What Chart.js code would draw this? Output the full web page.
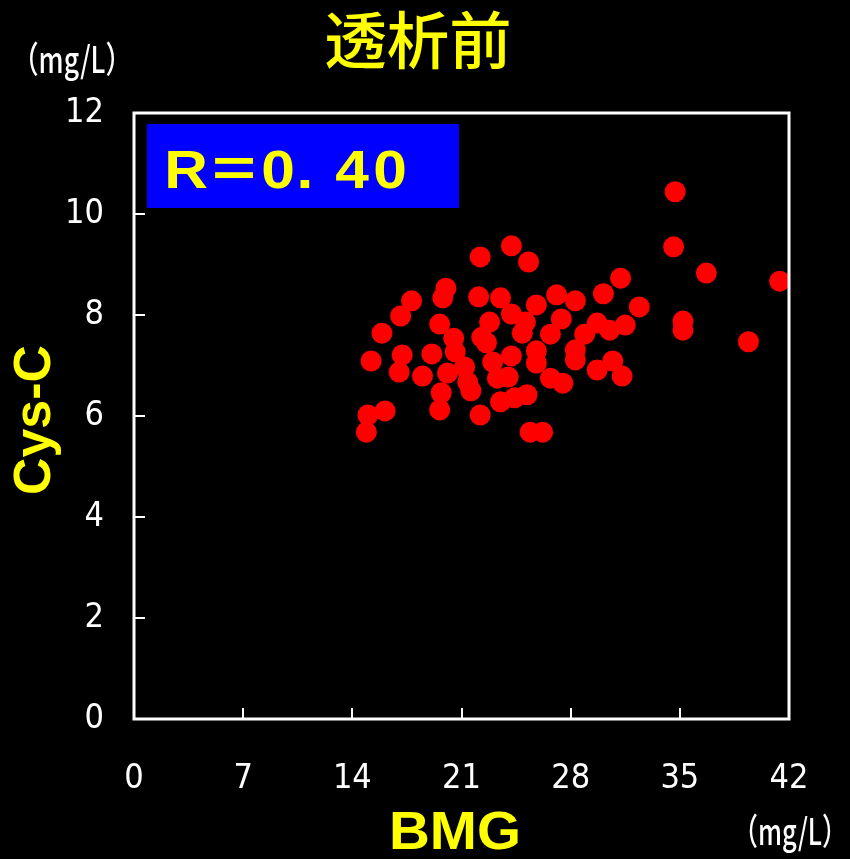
<!DOCTYPE html>
<html>
<head>
<meta charset="utf-8">
<script src="https://cdn.jsdelivr.net/npm/chart.js@4/dist/chart.umd.min.js"></script>
<style>
  html, body { margin: 0; padding: 0; background: #000; }
  #wrap { width: 850px; height: 859px; position: relative; }
</style>
</head>
<body>
<div id="wrap"><canvas id="c" width="850" height="859"></canvas></div>
<script>
// ---- data ----
const chartTitle = '透析前';
const xTitle = 'BMG';
const yTitle = 'Cys-C';
const unitLabel = '（mg/L）';
const rLabel = 'R＝0. 40';
const xTicks = [0, 7, 14, 21, 28, 35, 42];
const yTicks = [0, 2, 4, 6, 8, 10, 12];
const bmg = [
  14.9, 15.0, 16.1, 15.2, 15.9, 17.1, 17.8, 17.2, 17.0, 18.5,
  19.1, 19.6, 19.8, 20.0, 20.5, 20.6, 20.1, 21.2, 21.4, 19.7,
  19.6, 21.6, 22.2, 22.1, 22.2, 22.3, 22.8, 23.0, 23.3, 24.0,
  23.5, 24.4, 25.2, 24.2, 25.3, 23.5, 25.8, 24.2, 25.1, 24.9,
  24.2, 25.8, 25.8, 25.4, 26.2, 26.7, 26.7, 27.5, 27.1, 27.4,
  28.3, 28.9, 28.3, 28.3, 29.7, 29.7, 30.7, 31.3, 30.1, 31.2,
  32.4, 30.5, 31.5, 34.7, 34.6, 36.7, 41.4, 35.2, 35.2, 39.4,
  22.6
];
const cysC = [
  5.68, 6.02, 6.10, 7.09, 7.64, 7.98, 8.28, 7.21, 6.87, 6.79,
  7.23, 7.82, 8.34, 8.53, 7.54, 7.27, 6.85, 6.97, 6.67, 6.46,
  6.12, 6.50, 9.15, 8.36, 6.02, 7.56, 7.86, 7.07, 6.75, 6.77,
  6.28, 6.36, 6.42, 9.37, 9.05, 8.34, 8.20, 8.02, 7.86, 7.64,
  7.19, 7.29, 7.05, 5.68, 5.68, 7.62, 6.75, 6.65, 8.40, 7.92,
  8.28, 7.62, 7.31, 7.11, 7.84, 6.91, 7.09, 6.79, 8.42, 8.73,
  8.16, 7.70, 7.80, 10.44, 9.35, 8.83, 8.67, 7.88, 7.70, 7.47,
  7.45
];

const points = bmg.map((x, i) => ({ x: x, y: cysC[i] }));

const numFont = '"Liberation Sans Narrow", "DejaVu Sans Condensed", "Liberation Sans", Arial, sans-serif';

function drawFit(ctx, text, cx, cy, targetW, font, color, rot) {
  ctx.save();
  ctx.font = font;
  ctx.fillStyle = color;
  ctx.textAlign = 'center';
  ctx.textBaseline = 'middle';
  const w = ctx.measureText(text).width;
  ctx.translate(cx, cy);
  if (rot) ctx.rotate(rot);
  ctx.scale(targetW / w, 1);
  ctx.fillText(text, 0, 0);
  ctx.restore();
}

// draw the R label glyph by glyph with the wide spacing of the original
function drawRLabel(ctx) {
  const chars = Array.from(rLabel);           // R ＝ 0 . space 4 0
  const slots = [186, 234, 278, 305, 0, 352, 390];
  ctx.save();
  ctx.fillStyle = '#ffff00';
  ctx.textAlign = 'center';
  ctx.textBaseline = 'alphabetic';
  ctx.font = 'bold 54px "Liberation Sans", Arial, sans-serif';
  chars.forEach((ch, i) => {
    if (ch === ' ') return;
    ctx.save();
    ctx.translate(slots[i], 188);
    if (ch === '＝') {
      const w = ctx.measureText('=').width;
      ctx.scale(44 / w, 1);
      ctx.fillText('=', 0, -2);
    } else {
      ctx.scale(1.12, 1);
      ctx.fillText(ch, 0, 0);
    }
    ctx.restore();
  });
  ctx.restore();
}

const decor = {
  id: 'decor',
  beforeDraw(chart) {
    const ctx = chart.ctx;
    ctx.save();
    ctx.fillStyle = '#000';
    ctx.fillRect(0, 0, chart.width, chart.height);
    ctx.fillStyle = '#0000ff';
    ctx.fillRect(147, 124, 312, 84);
    ctx.restore();
    drawRLabel(ctx);
  },
  afterDraw(chart) {
    const ctx = chart.ctx;
    const a = chart.chartArea;
    const xs = chart.scales.x, ys = chart.scales.y;
    ctx.save();
    ctx.strokeStyle = '#ffffff';
    ctx.lineWidth = 3;
    ctx.strokeRect(a.left, a.top, a.right - a.left, a.bottom - a.top);
    ctx.lineWidth = 2;
    ctx.beginPath();
    xTicks.slice(1, -1).forEach(v => {
      const px = Math.round(xs.getPixelForValue(v));
      ctx.moveTo(px, a.bottom);
      ctx.lineTo(px, a.bottom - 11);
    });
    yTicks.slice(1, -1).forEach(v => {
      const py = Math.round(ys.getPixelForValue(v));
      ctx.moveTo(a.left, py);
      ctx.lineTo(a.left + 11, py);
    });
    ctx.stroke();
    ctx.restore();
    // titles
    drawFit(ctx, chartTitle, 418, 40, 187, '500 62px "Noto Sans CJK JP", sans-serif', '#ffff00');
    drawFit(ctx, xTitle, 455, 834, 132, 'bold 54px "Liberation Sans", Arial, sans-serif', '#ffff00');
    drawFit(ctx, yTitle, 36, 420, 150, 'bold 52px "Liberation Sans", Arial, sans-serif', '#ffff00', -Math.PI / 2);
    drawFit(ctx, unitLabel, 72, 59, 120, '500 36px "Noto Sans CJK JP", sans-serif', '#ffffff');
    drawFit(ctx, unitLabel, 790, 831, 115, '500 36px "Noto Sans CJK JP", sans-serif', '#ffffff');
  }
};

new Chart(document.getElementById('c'), {
  type: 'scatter',
  plugins: [decor],
  data: {
    datasets: [{
      data: points,
      backgroundColor: '#ff0000',
      borderColor: '#ff0000',
      borderWidth: 0,
      pointRadius: 10.5,
      pointHoverRadius: 10.5
    }]
  },
  options: {
    responsive: false,
    animation: false,
    events: [],
    layout: { padding: { left: 0, right: 61, top: 113, bottom: 0 } },
    plugins: { legend: { display: false }, tooltip: { enabled: false }, title: { display: false } },
    scales: {
      x: {
        type: 'linear',
        min: xTicks[0], max: xTicks[xTicks.length - 1],
        afterBuildTicks: s => { s.ticks = xTicks.map(v => ({ value: v })); },
        afterFit: s => { s.height = 140; },
        grid: { display: false, drawTicks: false },
        border: { display: false },
        ticks: { color: '#ffffff', font: { family: numFont, size: 34 }, padding: 40, maxRotation: 0, autoSkip: false }
      },
      y: {
        type: 'linear',
        min: yTicks[0], max: yTicks[yTicks.length - 1],
        afterBuildTicks: s => { s.ticks = yTicks.map(v => ({ value: v })); },
        afterFit: s => { s.width = 134; },
        grid: { display: false, drawTicks: false },
        border: { display: false },
        ticks: { color: '#ffffff', font: { family: numFont, size: 34 }, padding: 30, autoSkip: false }
      }
    }
  }
});
</script>
</body>
</html>
